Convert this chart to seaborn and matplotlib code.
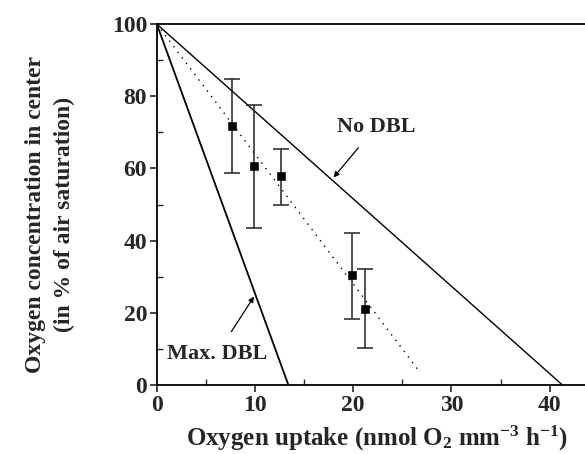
import numpy as np
import pandas as pd
import matplotlib
matplotlib.use("Agg")
import matplotlib.pyplot as plt
import seaborn as sns
from matplotlib.ticker import MultipleLocator

# Data
uptake = [7.7, 9.9, 12.6, 19.9, 21.2]
o2_center = [71.8, 60.7, 57.9, 30.4, 21.1]
err_upper = [84.7, 77.7, 65.5, 42.1, 32.0]
err_lower = [58.8, 43.6, 49.9, 18.2, 10.2]

no_dbl_x = [0, 41.3]
no_dbl_y = [100, 0]
max_dbl_x = [0, 13.4]
max_dbl_y = [100, 0]
fit_x = [0, 26.6]
fit_y = [100, 4.2]

sns.set_theme(style="ticks")
plt.rcParams['font.family'] = ['Liberation Serif', 'DejaVu Serif']
plt.rcParams['mathtext.fontset'] = 'custom'
plt.rcParams['mathtext.rm'] = 'Liberation Serif:bold'
plt.rcParams['mathtext.it'] = 'Liberation Serif:bold'
plt.rcParams['mathtext.bf'] = 'Liberation Serif:bold'

fig = plt.figure(figsize=(5.85, 4.54), dpi=100)
ax = fig.add_axes([0.268, 0.152, 0.732, 0.795])

sns.lineplot(x=no_dbl_x, y=no_dbl_y, ax=ax, color='black', linewidth=1.0)
sns.lineplot(x=max_dbl_x, y=max_dbl_y, ax=ax, color='black', linewidth=1.3)
sns.lineplot(x=fit_x, y=fit_y, ax=ax, color='black', linewidth=1.0, linestyle=(0, (1, 4)))

df = pd.DataFrame({'x': uptake, 'y': o2_center})
yerr = np.array([np.array(o2_center) - np.array(err_lower),
                 np.array(err_upper) - np.array(o2_center)])
ax.errorbar(uptake, o2_center, yerr=yerr, fmt='none', ecolor='#222222',
            elinewidth=1.1, capsize=6, capthick=1.1)
sns.scatterplot(data=df, x='x', y='y', ax=ax, marker='s', color='black',
                s=30, edgecolor='black', zorder=5)

ax.set_xlim(0, 43.6)
ax.set_ylim(0, 100)
ax.xaxis.set_major_locator(MultipleLocator(10))
ax.xaxis.set_minor_locator(MultipleLocator(5))
ax.yaxis.set_major_locator(MultipleLocator(20))
ax.yaxis.set_minor_locator(MultipleLocator(10))
ax.tick_params(which='major', direction='out', length=5, width=1.2,
               labelsize=17, pad=2)
ax.tick_params(which='minor', direction='in', length=4, width=1.0)
for lab in ax.get_xticklabels() + ax.get_yticklabels():
    lab.set_fontweight('bold')

for s in ['left', 'bottom', 'top']:
    ax.spines[s].set_linewidth(1.3)
    ax.spines[s].set_color('black')
ax.spines['right'].set_visible(False)

ax.set_xlabel(r'Oxygen uptake (nmol O$_2$ mm$^{-3}$ h$^{-1}$)',
              fontsize=18, fontweight='bold')
ax.xaxis.set_label_coords(0.515, -0.108)
ax.set_ylabel('Oxygen concentration in center\n(in % of air saturation)',
              fontsize=17, fontweight='bold', linespacing=1.5)
ax.yaxis.set_label_coords(-0.19, 0.472)

ax.annotate('No DBL', xy=(18.0, 57.5), xytext=(22.3, 71.5),
            fontsize=16, fontweight='bold', ha='center', va='center',
            arrowprops=dict(arrowstyle='-|>', color='black', lw=0.9,
                            mutation_scale=8, shrinkA=7, shrinkB=0))
ax.annotate('Max. DBL', xy=(9.9, 24.5), xytext=(6.1, 8.5),
            fontsize=16, fontweight='bold', ha='center', va='center',
            arrowprops=dict(arrowstyle='-|>', color='black', lw=0.9,
                            mutation_scale=8, shrinkA=8, shrinkB=0))

fig.savefig('out.png', dpi=100)
